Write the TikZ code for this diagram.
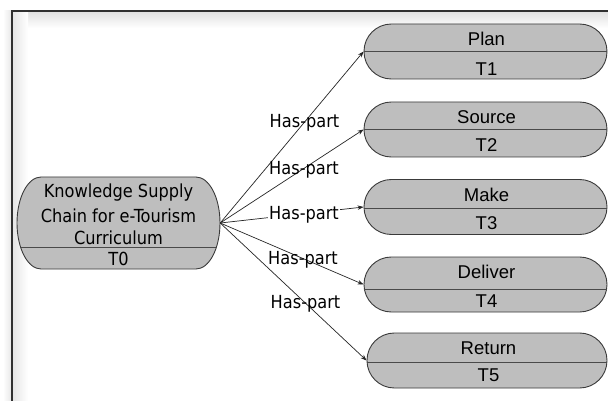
\documentclass[tikz,border=0pt]{standalone}
\usepackage{fontspec}
\setmainfont{Liberation Sans}
\newfontfamily\condfont{DejaVu Sans Condensed}
\usetikzlibrary{arrows.meta}
\definecolor{nodefill}{HTML}{BEBEBE}
\definecolor{nodeedge}{HTML}{3A3A3A}
\definecolor{divc}{HTML}{4A4A4A}
\definecolor{framec}{HTML}{303030}
\tikzset{
  rbox/.style={draw=nodeedge, fill=nodefill, line width=0.9pt, rounded corners=27.4pt,
    minimum width=243pt, minimum height=55pt, inner sep=0pt},
  lshape/.style={draw=nodeedge, fill=nodefill, line width=0.9pt},
  divline/.style={draw=divc, line width=0.9pt},
  rtxt/.style={font=\fontsize{18.5}{20}\selectfont, inner sep=0pt, text=black},
  ltxt/.style={font=\condfont\fontsize{18}{20}\selectfont, inner sep=0pt, text=black},
  lbl/.style={font=\condfont\fontsize{18}{20}\selectfont, inner sep=0pt, text=black},
  conn/.style={draw=black!85, line width=0.7pt, -{Stealth[length=6pt,width=4.5pt]}},
}
\begin{document}
\begin{tikzpicture}[x=1pt,y=-1pt]
\useasboundingbox (0,0) rectangle (608,401);
% background and frame with soft shadows
\fill[white] (0,0) rectangle (608,401);
\shade[left color=white, right color=black!10] (3,11) rectangle (12,401);
\shade[top color=black!12, bottom color=white] (12.7,11.7) rectangle (608,28);
\shade[left color=black!10, right color=white] (12.7,11.7) rectangle (28,401);
\draw[framec, line width=1.4pt] (12,405) -- (12,11) -- (612,11);

% left node (rectangle with elliptical ends)
\node[minimum width=203pt, minimum height=92pt, inner sep=0pt] (n0) at (118.5,223) {};
\path[lshape] (41,177) -- (196,177)
  arc[start angle=-90, end angle=90, x radius=24, y radius=46]
  -- (41,269)
  arc[start angle=90, end angle=270, x radius=24, y radius=46] -- cycle;
\draw[divline] (20.5,247) -- (216.5,247);
\node[ltxt] (t0a) at (118.5,193) {Knowledge Supply};
\node[ltxt] (t0b) at (118.5,216) {Chain for e-Tourism};
\node[ltxt] (t0c) at (118.5,238) {Curriculum};
\node[ltxt] (t0d) at (118.5,259) {T0};

% right nodes
\node[rbox] (n1) at (485.5,51.5) {};
\draw[divline] (n1.west) -- (n1.east);
\node[rtxt] (t1a) at (486.5,39) {Plan};
\node[rtxt] (t1b) at (486.5,69) {T1};

\node[rbox] (n2) at (485.5,129.5) {};
\draw[divline] (n2.west) -- (n2.east);
\node[rtxt] (t2a) at (486.5,117) {Source};
\node[rtxt] (t2b) at (486.5,145) {T2};

\node[rbox] (n3) at (485.5,207) {};
\draw[divline] ([yshift=-1pt]n3.west) -- ([yshift=-1pt]n3.east);
\node[rtxt] (t3a) at (486.5,195) {Make};
\node[rtxt] (t3b) at (486.5,223) {T3};

\node[rbox] (n4) at (485.5,284.5) {};
\draw[divline] ([yshift=-5pt]n4.west) -- ([yshift=-5pt]n4.east);
\node[rtxt] (t4a) at (486.5,272) {Deliver};
\node[rtxt] (t4b) at (486.5,301) {T4};

\node[rbox, minimum width=240pt] (n5) at (487,360.5) {};
\draw[divline] ([yshift=-1.5pt]n5.west) -- ([yshift=-1.5pt]n5.east);
\node[rtxt] (t5a) at (488.5,348) {Return};
\node[rtxt] (t5b) at (488.5,375) {T5};

% connectors
\draw[conn] (n0.east) -- (n1.west);
\draw[conn] (n0.east) -- (n2.west);
\draw[conn] (n0.east) -- (n3.west);
\draw[conn] (n0.east) -- (n4.west);
\draw[conn] (n0.east) -- (n5.west);

% labels
\node[lbl] (l1) at (304.5,123) {Has-part};
\node[lbl] (l2) at (304,169.5) {Has-part};
\node[lbl, fill=white, inner sep=1pt] (l3) at (304,214.5) {Has-part};
\node[lbl] (l4) at (303,259.5) {Has-part};
\node[lbl] (l5) at (305.5,304) {Has-part};
\end{tikzpicture}
\end{document}
